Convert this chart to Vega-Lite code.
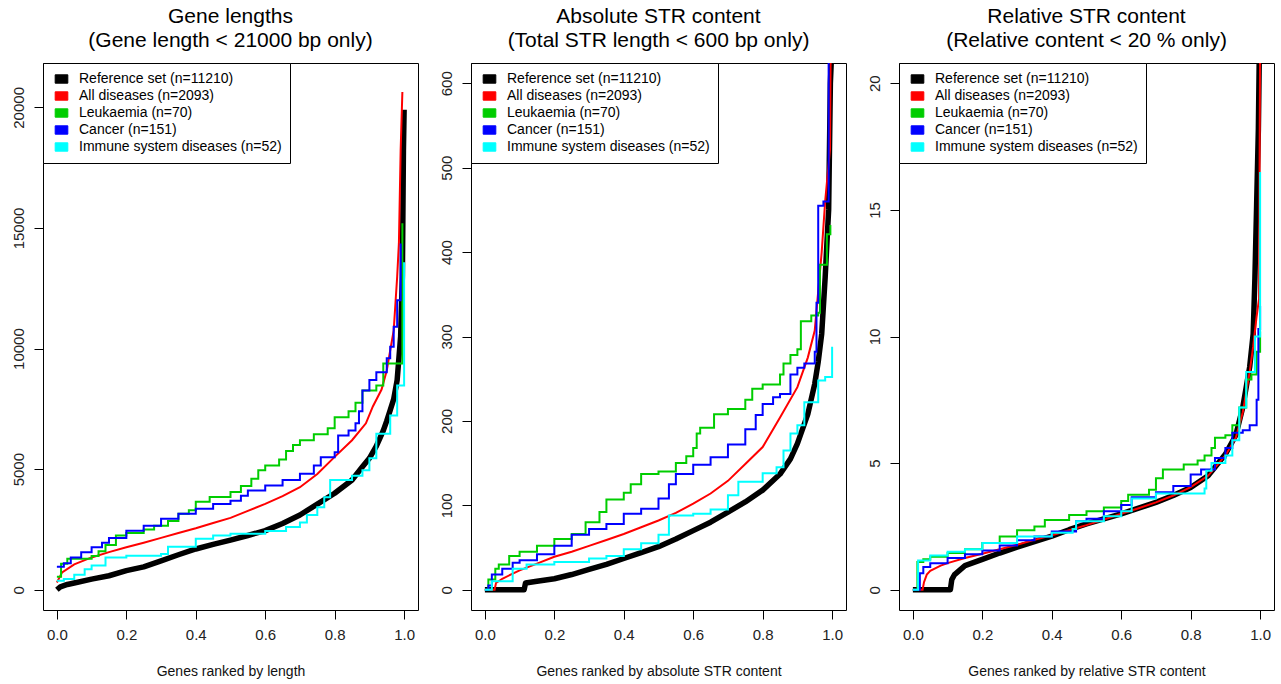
{
  "$schema": "https://vega.github.io/schema/vega-lite/v6.json",
  "background": "white",
  "padding": {"left": 10, "top": 5, "right": 5, "bottom": 5},
  "spacing": 19,
  "datasets": {
    "p1": [
      {"series":"Reference set (n=11210)","x":0,"y":0},{"series":"Reference set (n=11210)","x":0.01,"y":120},{"series":"Reference set (n=11210)","x":0.03,"y":220},{"series":"Reference set (n=11210)","x":0.05,"y":280},{"series":"Reference set (n=11210)","x":0.1,"y":440},{"series":"Reference set (n=11210)","x":0.15,"y":580},{"series":"Reference set (n=11210)","x":0.2,"y":790},{"series":"Reference set (n=11210)","x":0.25,"y":950},{"series":"Reference set (n=11210)","x":0.3,"y":1200},{"series":"Reference set (n=11210)","x":0.35,"y":1450},{"series":"Reference set (n=11210)","x":0.4,"y":1690},{"series":"Reference set (n=11210)","x":0.45,"y":1880},{"series":"Reference set (n=11210)","x":0.5,"y":2060},{"series":"Reference set (n=11210)","x":0.55,"y":2250},{"series":"Reference set (n=11210)","x":0.6,"y":2450},{"series":"Reference set (n=11210)","x":0.65,"y":2750},{"series":"Reference set (n=11210)","x":0.7,"y":3100},{"series":"Reference set (n=11210)","x":0.75,"y":3550},{"series":"Reference set (n=11210)","x":0.8,"y":4000},{"series":"Reference set (n=11210)","x":0.85,"y":4550},{"series":"Reference set (n=11210)","x":0.88,"y":5100},{"series":"Reference set (n=11210)","x":0.9,"y":5450},{"series":"Reference set (n=11210)","x":0.92,"y":5950},{"series":"Reference set (n=11210)","x":0.94,"y":6600},{"series":"Reference set (n=11210)","x":0.95,"y":7000},{"series":"Reference set (n=11210)","x":0.96,"y":7450},{"series":"Reference set (n=11210)","x":0.97,"y":7900},{"series":"Reference set (n=11210)","x":0.98,"y":8700},{"series":"Reference set (n=11210)","x":0.99,"y":10500},{"series":"Reference set (n=11210)","x":0.995,"y":13000},{"series":"Reference set (n=11210)","x":0.998,"y":18200},{"series":"Reference set (n=11210)","x":1.0,"y":19900},
      {"series":"All diseases (n=2093)","x":0,"y":300},{"series":"All diseases (n=2093)","x":0.015,"y":720},{"series":"All diseases (n=2093)","x":0.05,"y":1050},{"series":"All diseases (n=2093)","x":0.1,"y":1340},{"series":"All diseases (n=2093)","x":0.15,"y":1560},{"series":"All diseases (n=2093)","x":0.2,"y":1760},{"series":"All diseases (n=2093)","x":0.25,"y":1950},{"series":"All diseases (n=2093)","x":0.3,"y":2150},{"series":"All diseases (n=2093)","x":0.35,"y":2350},{"series":"All diseases (n=2093)","x":0.4,"y":2550},{"series":"All diseases (n=2093)","x":0.45,"y":2770},{"series":"All diseases (n=2093)","x":0.5,"y":2980},{"series":"All diseases (n=2093)","x":0.55,"y":3270},{"series":"All diseases (n=2093)","x":0.6,"y":3560},{"series":"All diseases (n=2093)","x":0.65,"y":3880},{"series":"All diseases (n=2093)","x":0.7,"y":4250},{"series":"All diseases (n=2093)","x":0.75,"y":4800},{"series":"All diseases (n=2093)","x":0.8,"y":5510},{"series":"All diseases (n=2093)","x":0.85,"y":6200},{"series":"All diseases (n=2093)","x":0.89,"y":6900},{"series":"All diseases (n=2093)","x":0.91,"y":7600},{"series":"All diseases (n=2093)","x":0.935,"y":8300},{"series":"All diseases (n=2093)","x":0.95,"y":9090},{"series":"All diseases (n=2093)","x":0.97,"y":10750},{"series":"All diseases (n=2093)","x":0.98,"y":12970},{"series":"All diseases (n=2093)","x":0.985,"y":14370},{"series":"All diseases (n=2093)","x":0.99,"y":18200},{"series":"All diseases (n=2093)","x":0.995,"y":20640},
      {"series":"Leukaemia (n=70)","x":0,"y":540},{"series":"Leukaemia (n=70)","x":0.012,"y":1080},{"series":"Leukaemia (n=70)","x":0.03,"y":1290},{"series":"Leukaemia (n=70)","x":0.1,"y":1400},{"series":"Leukaemia (n=70)","x":0.12,"y":1600},{"series":"Leukaemia (n=70)","x":0.14,"y":1850},{"series":"Leukaemia (n=70)","x":0.17,"y":2250},{"series":"Leukaemia (n=70)","x":0.2,"y":2350},{"series":"Leukaemia (n=70)","x":0.25,"y":2500},{"series":"Leukaemia (n=70)","x":0.28,"y":2650},{"series":"Leukaemia (n=70)","x":0.32,"y":2850},{"series":"Leukaemia (n=70)","x":0.35,"y":3150},{"series":"Leukaemia (n=70)","x":0.38,"y":3300},{"series":"Leukaemia (n=70)","x":0.4,"y":3650},{"series":"Leukaemia (n=70)","x":0.44,"y":3850},{"series":"Leukaemia (n=70)","x":0.5,"y":4050},{"series":"Leukaemia (n=70)","x":0.53,"y":4300},{"series":"Leukaemia (n=70)","x":0.56,"y":4600},{"series":"Leukaemia (n=70)","x":0.58,"y":4950},{"series":"Leukaemia (n=70)","x":0.6,"y":5150},{"series":"Leukaemia (n=70)","x":0.64,"y":5400},{"series":"Leukaemia (n=70)","x":0.66,"y":5750},{"series":"Leukaemia (n=70)","x":0.68,"y":6000},{"series":"Leukaemia (n=70)","x":0.7,"y":6200},{"series":"Leukaemia (n=70)","x":0.74,"y":6450},{"series":"Leukaemia (n=70)","x":0.78,"y":6700},{"series":"Leukaemia (n=70)","x":0.8,"y":7150},{"series":"Leukaemia (n=70)","x":0.84,"y":7400},{"series":"Leukaemia (n=70)","x":0.86,"y":7750},{"series":"Leukaemia (n=70)","x":0.88,"y":8260},{"series":"Leukaemia (n=70)","x":0.92,"y":8470},{"series":"Leukaemia (n=70)","x":0.94,"y":9380},{"series":"Leukaemia (n=70)","x":0.995,"y":15200},
      {"series":"Cancer (n=151)","x":0,"y":950},{"series":"Cancer (n=151)","x":0.02,"y":1100},{"series":"Cancer (n=151)","x":0.04,"y":1340},{"series":"Cancer (n=151)","x":0.07,"y":1550},{"series":"Cancer (n=151)","x":0.1,"y":1760},{"series":"Cancer (n=151)","x":0.13,"y":1950},{"series":"Cancer (n=151)","x":0.15,"y":2150},{"series":"Cancer (n=151)","x":0.2,"y":2450},{"series":"Cancer (n=151)","x":0.25,"y":2650},{"series":"Cancer (n=151)","x":0.3,"y":2940},{"series":"Cancer (n=151)","x":0.35,"y":3150},{"series":"Cancer (n=151)","x":0.4,"y":3360},{"series":"Cancer (n=151)","x":0.45,"y":3550},{"series":"Cancer (n=151)","x":0.5,"y":3690},{"series":"Cancer (n=151)","x":0.53,"y":3900},{"series":"Cancer (n=151)","x":0.55,"y":4110},{"series":"Cancer (n=151)","x":0.6,"y":4320},{"series":"Cancer (n=151)","x":0.65,"y":4550},{"series":"Cancer (n=151)","x":0.7,"y":4810},{"series":"Cancer (n=151)","x":0.74,"y":5150},{"series":"Cancer (n=151)","x":0.76,"y":5490},{"series":"Cancer (n=151)","x":0.8,"y":5700},{"series":"Cancer (n=151)","x":0.81,"y":6400},{"series":"Cancer (n=151)","x":0.84,"y":6600},{"series":"Cancer (n=151)","x":0.86,"y":6900},{"series":"Cancer (n=151)","x":0.87,"y":7400},{"series":"Cancer (n=151)","x":0.88,"y":8260},{"series":"Cancer (n=151)","x":0.9,"y":8700},{"series":"Cancer (n=151)","x":0.92,"y":9020},{"series":"Cancer (n=151)","x":0.95,"y":9600},{"series":"Cancer (n=151)","x":0.96,"y":10080},{"series":"Cancer (n=151)","x":0.97,"y":10900},{"series":"Cancer (n=151)","x":0.98,"y":12000},{"series":"Cancer (n=151)","x":0.99,"y":14360},
      {"series":"Immune system diseases (n=52)","x":0,"y":370},{"series":"Immune system diseases (n=52)","x":0.02,"y":450},{"series":"Immune system diseases (n=52)","x":0.05,"y":620},{"series":"Immune system diseases (n=52)","x":0.08,"y":850},{"series":"Immune system diseases (n=52)","x":0.1,"y":1000},{"series":"Immune system diseases (n=52)","x":0.14,"y":1340},{"series":"Immune system diseases (n=52)","x":0.2,"y":1410},{"series":"Immune system diseases (n=52)","x":0.3,"y":1480},{"series":"Immune system diseases (n=52)","x":0.32,"y":1780},{"series":"Immune system diseases (n=52)","x":0.4,"y":2110},{"series":"Immune system diseases (n=52)","x":0.45,"y":2250},{"series":"Immune system diseases (n=52)","x":0.5,"y":2320},{"series":"Immune system diseases (n=52)","x":0.6,"y":2440},{"series":"Immune system diseases (n=52)","x":0.66,"y":2600},{"series":"Immune system diseases (n=52)","x":0.7,"y":2790},{"series":"Immune system diseases (n=52)","x":0.72,"y":3100},{"series":"Immune system diseases (n=52)","x":0.75,"y":3420},{"series":"Immune system diseases (n=52)","x":0.77,"y":3830},{"series":"Immune system diseases (n=52)","x":0.787,"y":4550},{"series":"Immune system diseases (n=52)","x":0.85,"y":4730},{"series":"Immune system diseases (n=52)","x":0.88,"y":4950},{"series":"Immune system diseases (n=52)","x":0.9,"y":5450},{"series":"Immune system diseases (n=52)","x":0.92,"y":6470},{"series":"Immune system diseases (n=52)","x":0.96,"y":7220},{"series":"Immune system diseases (n=52)","x":0.98,"y":8470},{"series":"Immune system diseases (n=52)","x":1.0,"y":13580}
    ],
    "p2": [
      {"series":"Reference set (n=11210)","x":0,"y":0},{"series":"Reference set (n=11210)","x":0.113,"y":0},{"series":"Reference set (n=11210)","x":0.117,"y":8},{"series":"Reference set (n=11210)","x":0.15,"y":10},{"series":"Reference set (n=11210)","x":0.2,"y":13},{"series":"Reference set (n=11210)","x":0.25,"y":18},{"series":"Reference set (n=11210)","x":0.3,"y":24},{"series":"Reference set (n=11210)","x":0.35,"y":30},{"series":"Reference set (n=11210)","x":0.4,"y":37},{"series":"Reference set (n=11210)","x":0.45,"y":44},{"series":"Reference set (n=11210)","x":0.5,"y":51},{"series":"Reference set (n=11210)","x":0.55,"y":60},{"series":"Reference set (n=11210)","x":0.6,"y":70},{"series":"Reference set (n=11210)","x":0.65,"y":80},{"series":"Reference set (n=11210)","x":0.7,"y":92},{"series":"Reference set (n=11210)","x":0.75,"y":104},{"series":"Reference set (n=11210)","x":0.8,"y":118},{"series":"Reference set (n=11210)","x":0.85,"y":137},{"series":"Reference set (n=11210)","x":0.88,"y":155},{"series":"Reference set (n=11210)","x":0.9,"y":173},{"series":"Reference set (n=11210)","x":0.93,"y":208},{"series":"Reference set (n=11210)","x":0.95,"y":244},{"series":"Reference set (n=11210)","x":0.96,"y":270},{"series":"Reference set (n=11210)","x":0.97,"y":303},{"series":"Reference set (n=11210)","x":0.98,"y":370},{"series":"Reference set (n=11210)","x":0.99,"y":450},{"series":"Reference set (n=11210)","x":0.995,"y":600},{"series":"Reference set (n=11210)","x":1.0,"y":650},
      {"series":"All diseases (n=2093)","x":0,"y":0},{"series":"All diseases (n=2093)","x":0.028,"y":0},{"series":"All diseases (n=2093)","x":0.032,"y":8},{"series":"All diseases (n=2093)","x":0.05,"y":13},{"series":"All diseases (n=2093)","x":0.1,"y":23},{"series":"All diseases (n=2093)","x":0.15,"y":31},{"series":"All diseases (n=2093)","x":0.2,"y":39},{"series":"All diseases (n=2093)","x":0.25,"y":45},{"series":"All diseases (n=2093)","x":0.3,"y":52},{"series":"All diseases (n=2093)","x":0.35,"y":59},{"series":"All diseases (n=2093)","x":0.4,"y":66},{"series":"All diseases (n=2093)","x":0.45,"y":74},{"series":"All diseases (n=2093)","x":0.5,"y":82},{"series":"All diseases (n=2093)","x":0.55,"y":91},{"series":"All diseases (n=2093)","x":0.6,"y":102},{"series":"All diseases (n=2093)","x":0.65,"y":114},{"series":"All diseases (n=2093)","x":0.7,"y":129},{"series":"All diseases (n=2093)","x":0.75,"y":149},{"series":"All diseases (n=2093)","x":0.8,"y":169},{"series":"All diseases (n=2093)","x":0.85,"y":204},{"series":"All diseases (n=2093)","x":0.9,"y":240},{"series":"All diseases (n=2093)","x":0.93,"y":275},{"series":"All diseases (n=2093)","x":0.95,"y":307},{"series":"All diseases (n=2093)","x":0.97,"y":400},{"series":"All diseases (n=2093)","x":0.98,"y":460},{"series":"All diseases (n=2093)","x":0.994,"y":522},{"series":"All diseases (n=2093)","x":0.996,"y":650},
      {"series":"Leukaemia (n=70)","x":0,"y":0},{"series":"Leukaemia (n=70)","x":0.01,"y":12},{"series":"Leukaemia (n=70)","x":0.03,"y":25},{"series":"Leukaemia (n=70)","x":0.04,"y":30},{"series":"Leukaemia (n=70)","x":0.07,"y":40},{"series":"Leukaemia (n=70)","x":0.1,"y":45},{"series":"Leukaemia (n=70)","x":0.15,"y":52},{"series":"Leukaemia (n=70)","x":0.2,"y":60},{"series":"Leukaemia (n=70)","x":0.25,"y":66},{"series":"Leukaemia (n=70)","x":0.29,"y":80},{"series":"Leukaemia (n=70)","x":0.33,"y":92},{"series":"Leukaemia (n=70)","x":0.35,"y":107},{"series":"Leukaemia (n=70)","x":0.4,"y":115},{"series":"Leukaemia (n=70)","x":0.42,"y":125},{"series":"Leukaemia (n=70)","x":0.45,"y":137},{"series":"Leukaemia (n=70)","x":0.5,"y":140},{"series":"Leukaemia (n=70)","x":0.55,"y":150},{"series":"Leukaemia (n=70)","x":0.58,"y":158},{"series":"Leukaemia (n=70)","x":0.6,"y":168},{"series":"Leukaemia (n=70)","x":0.61,"y":185},{"series":"Leukaemia (n=70)","x":0.62,"y":192},{"series":"Leukaemia (n=70)","x":0.66,"y":208},{"series":"Leukaemia (n=70)","x":0.7,"y":214},{"series":"Leukaemia (n=70)","x":0.75,"y":225},{"series":"Leukaemia (n=70)","x":0.77,"y":238},{"series":"Leukaemia (n=70)","x":0.8,"y":243},{"series":"Leukaemia (n=70)","x":0.85,"y":255},{"series":"Leukaemia (n=70)","x":0.86,"y":268},{"series":"Leukaemia (n=70)","x":0.88,"y":278},{"series":"Leukaemia (n=70)","x":0.9,"y":285},{"series":"Leukaemia (n=70)","x":0.91,"y":318},{"series":"Leukaemia (n=70)","x":0.94,"y":325},{"series":"Leukaemia (n=70)","x":0.96,"y":328},{"series":"Leukaemia (n=70)","x":0.965,"y":385},{"series":"Leukaemia (n=70)","x":0.985,"y":421},{"series":"Leukaemia (n=70)","x":0.995,"y":432},
      {"series":"Cancer (n=151)","x":0,"y":0},{"series":"Cancer (n=151)","x":0.01,"y":5},{"series":"Cancer (n=151)","x":0.02,"y":18},{"series":"Cancer (n=151)","x":0.05,"y":25},{"series":"Cancer (n=151)","x":0.08,"y":32},{"series":"Cancer (n=151)","x":0.1,"y":35},{"series":"Cancer (n=151)","x":0.15,"y":42},{"series":"Cancer (n=151)","x":0.2,"y":52},{"series":"Cancer (n=151)","x":0.25,"y":65},{"series":"Cancer (n=151)","x":0.3,"y":72},{"series":"Cancer (n=151)","x":0.35,"y":78},{"series":"Cancer (n=151)","x":0.4,"y":90},{"series":"Cancer (n=151)","x":0.45,"y":96},{"series":"Cancer (n=151)","x":0.5,"y":108},{"series":"Cancer (n=151)","x":0.53,"y":125},{"series":"Cancer (n=151)","x":0.55,"y":137},{"series":"Cancer (n=151)","x":0.6,"y":148},{"series":"Cancer (n=151)","x":0.65,"y":157},{"series":"Cancer (n=151)","x":0.7,"y":172},{"series":"Cancer (n=151)","x":0.75,"y":190},{"series":"Cancer (n=151)","x":0.78,"y":207},{"series":"Cancer (n=151)","x":0.8,"y":220},{"series":"Cancer (n=151)","x":0.83,"y":228},{"series":"Cancer (n=151)","x":0.85,"y":232},{"series":"Cancer (n=151)","x":0.88,"y":255},{"series":"Cancer (n=151)","x":0.9,"y":263},{"series":"Cancer (n=151)","x":0.92,"y":268},{"series":"Cancer (n=151)","x":0.95,"y":282},{"series":"Cancer (n=151)","x":0.955,"y":340},{"series":"Cancer (n=151)","x":0.96,"y":455},{"series":"Cancer (n=151)","x":0.975,"y":460},{"series":"Cancer (n=151)","x":0.99,"y":650},
      {"series":"Immune system diseases (n=52)","x":0,"y":0},{"series":"Immune system diseases (n=52)","x":0.02,"y":10},{"series":"Immune system diseases (n=52)","x":0.08,"y":25},{"series":"Immune system diseases (n=52)","x":0.12,"y":30},{"series":"Immune system diseases (n=52)","x":0.2,"y":33},{"series":"Immune system diseases (n=52)","x":0.3,"y":37},{"series":"Immune system diseases (n=52)","x":0.35,"y":40},{"series":"Immune system diseases (n=52)","x":0.4,"y":48},{"series":"Immune system diseases (n=52)","x":0.45,"y":55},{"series":"Immune system diseases (n=52)","x":0.5,"y":65},{"series":"Immune system diseases (n=52)","x":0.53,"y":88},{"series":"Immune system diseases (n=52)","x":0.6,"y":90},{"series":"Immune system diseases (n=52)","x":0.65,"y":95},{"series":"Immune system diseases (n=52)","x":0.7,"y":112},{"series":"Immune system diseases (n=52)","x":0.73,"y":128},{"series":"Immune system diseases (n=52)","x":0.8,"y":138},{"series":"Immune system diseases (n=52)","x":0.84,"y":145},{"series":"Immune system diseases (n=52)","x":0.86,"y":165},{"series":"Immune system diseases (n=52)","x":0.88,"y":185},{"series":"Immune system diseases (n=52)","x":0.9,"y":195},{"series":"Immune system diseases (n=52)","x":0.92,"y":222},{"series":"Immune system diseases (n=52)","x":0.96,"y":248},{"series":"Immune system diseases (n=52)","x":0.98,"y":252},{"series":"Immune system diseases (n=52)","x":1.0,"y":288}
    ],
    "p3": [
      {"series":"Reference set (n=11210)","x":0,"y":0},{"series":"Reference set (n=11210)","x":0.108,"y":0},{"series":"Reference set (n=11210)","x":0.112,"y":0.4},{"series":"Reference set (n=11210)","x":0.12,"y":0.6},{"series":"Reference set (n=11210)","x":0.15,"y":0.95},{"series":"Reference set (n=11210)","x":0.2,"y":1.2},{"series":"Reference set (n=11210)","x":0.25,"y":1.45},{"series":"Reference set (n=11210)","x":0.3,"y":1.68},{"series":"Reference set (n=11210)","x":0.35,"y":1.9},{"series":"Reference set (n=11210)","x":0.4,"y":2.12},{"series":"Reference set (n=11210)","x":0.45,"y":2.37},{"series":"Reference set (n=11210)","x":0.5,"y":2.6},{"series":"Reference set (n=11210)","x":0.55,"y":2.8},{"series":"Reference set (n=11210)","x":0.6,"y":3.0},{"series":"Reference set (n=11210)","x":0.65,"y":3.22},{"series":"Reference set (n=11210)","x":0.7,"y":3.45},{"series":"Reference set (n=11210)","x":0.75,"y":3.72},{"series":"Reference set (n=11210)","x":0.8,"y":4.04},{"series":"Reference set (n=11210)","x":0.85,"y":4.5},{"series":"Reference set (n=11210)","x":0.9,"y":5.35},{"series":"Reference set (n=11210)","x":0.93,"y":6.1},{"series":"Reference set (n=11210)","x":0.95,"y":7.2},{"series":"Reference set (n=11210)","x":0.97,"y":8.8},{"series":"Reference set (n=11210)","x":0.98,"y":10.1},{"series":"Reference set (n=11210)","x":0.985,"y":12.3},{"series":"Reference set (n=11210)","x":0.99,"y":15.2},{"series":"Reference set (n=11210)","x":0.995,"y":18.2},{"series":"Reference set (n=11210)","x":0.998,"y":21.5},
      {"series":"All diseases (n=2093)","x":0,"y":0},{"series":"All diseases (n=2093)","x":0.028,"y":0},{"series":"All diseases (n=2093)","x":0.032,"y":0.3},{"series":"All diseases (n=2093)","x":0.04,"y":0.6},{"series":"All diseases (n=2093)","x":0.05,"y":0.75},{"series":"All diseases (n=2093)","x":0.08,"y":0.95},{"series":"All diseases (n=2093)","x":0.1,"y":1.05},{"series":"All diseases (n=2093)","x":0.15,"y":1.25},{"series":"All diseases (n=2093)","x":0.2,"y":1.42},{"series":"All diseases (n=2093)","x":0.25,"y":1.6},{"series":"All diseases (n=2093)","x":0.3,"y":1.78},{"series":"All diseases (n=2093)","x":0.35,"y":1.97},{"series":"All diseases (n=2093)","x":0.4,"y":2.15},{"series":"All diseases (n=2093)","x":0.45,"y":2.35},{"series":"All diseases (n=2093)","x":0.5,"y":2.55},{"series":"All diseases (n=2093)","x":0.55,"y":2.77},{"series":"All diseases (n=2093)","x":0.6,"y":3.0},{"series":"All diseases (n=2093)","x":0.65,"y":3.22},{"series":"All diseases (n=2093)","x":0.7,"y":3.45},{"series":"All diseases (n=2093)","x":0.75,"y":3.72},{"series":"All diseases (n=2093)","x":0.8,"y":4.05},{"series":"All diseases (n=2093)","x":0.85,"y":4.5},{"series":"All diseases (n=2093)","x":0.9,"y":5.3},{"series":"All diseases (n=2093)","x":0.93,"y":6.0},{"series":"All diseases (n=2093)","x":0.95,"y":7.0},{"series":"All diseases (n=2093)","x":0.97,"y":8.6},{"series":"All diseases (n=2093)","x":0.98,"y":9.6},{"series":"All diseases (n=2093)","x":0.99,"y":10.8},{"series":"All diseases (n=2093)","x":0.997,"y":11.5},{"series":"All diseases (n=2093)","x":0.999,"y":18.3},{"series":"All diseases (n=2093)","x":1.0,"y":21.5},
      {"series":"Leukaemia (n=70)","x":0,"y":0},{"series":"Leukaemia (n=70)","x":0.013,"y":1.1},{"series":"Leukaemia (n=70)","x":0.03,"y":1.2},{"series":"Leukaemia (n=70)","x":0.05,"y":1.3},{"series":"Leukaemia (n=70)","x":0.1,"y":1.45},{"series":"Leukaemia (n=70)","x":0.15,"y":1.6},{"series":"Leukaemia (n=70)","x":0.2,"y":1.85},{"series":"Leukaemia (n=70)","x":0.25,"y":2.1},{"series":"Leukaemia (n=70)","x":0.3,"y":2.35},{"series":"Leukaemia (n=70)","x":0.35,"y":2.5},{"series":"Leukaemia (n=70)","x":0.38,"y":2.75},{"series":"Leukaemia (n=70)","x":0.45,"y":2.95},{"series":"Leukaemia (n=70)","x":0.5,"y":3.1},{"series":"Leukaemia (n=70)","x":0.55,"y":3.25},{"series":"Leukaemia (n=70)","x":0.6,"y":3.5},{"series":"Leukaemia (n=70)","x":0.62,"y":3.75},{"series":"Leukaemia (n=70)","x":0.68,"y":3.95},{"series":"Leukaemia (n=70)","x":0.7,"y":4.4},{"series":"Leukaemia (n=70)","x":0.72,"y":4.75},{"series":"Leukaemia (n=70)","x":0.78,"y":4.95},{"series":"Leukaemia (n=70)","x":0.82,"y":5.1},{"series":"Leukaemia (n=70)","x":0.84,"y":5.3},{"series":"Leukaemia (n=70)","x":0.86,"y":5.6},{"series":"Leukaemia (n=70)","x":0.87,"y":6.0},{"series":"Leukaemia (n=70)","x":0.9,"y":6.1},{"series":"Leukaemia (n=70)","x":0.92,"y":6.5},{"series":"Leukaemia (n=70)","x":0.94,"y":7.2},{"series":"Leukaemia (n=70)","x":0.96,"y":8.3},{"series":"Leukaemia (n=70)","x":0.975,"y":8.5},{"series":"Leukaemia (n=70)","x":0.99,"y":9.4},{"series":"Leukaemia (n=70)","x":1.0,"y":10.2},
      {"series":"Cancer (n=151)","x":0,"y":0},{"series":"Cancer (n=151)","x":0.02,"y":0.65},{"series":"Cancer (n=151)","x":0.03,"y":0.9},{"series":"Cancer (n=151)","x":0.05,"y":1.05},{"series":"Cancer (n=151)","x":0.1,"y":1.25},{"series":"Cancer (n=151)","x":0.15,"y":1.4},{"series":"Cancer (n=151)","x":0.2,"y":1.55},{"series":"Cancer (n=151)","x":0.25,"y":1.75},{"series":"Cancer (n=151)","x":0.3,"y":1.95},{"series":"Cancer (n=151)","x":0.35,"y":2.1},{"series":"Cancer (n=151)","x":0.4,"y":2.3},{"series":"Cancer (n=151)","x":0.47,"y":2.7},{"series":"Cancer (n=151)","x":0.5,"y":2.8},{"series":"Cancer (n=151)","x":0.55,"y":3.1},{"series":"Cancer (n=151)","x":0.6,"y":3.35},{"series":"Cancer (n=151)","x":0.63,"y":3.65},{"series":"Cancer (n=151)","x":0.7,"y":3.85},{"series":"Cancer (n=151)","x":0.75,"y":4.1},{"series":"Cancer (n=151)","x":0.8,"y":4.55},{"series":"Cancer (n=151)","x":0.83,"y":4.75},{"series":"Cancer (n=151)","x":0.87,"y":5.2},{"series":"Cancer (n=151)","x":0.9,"y":5.6},{"series":"Cancer (n=151)","x":0.92,"y":6.2},{"series":"Cancer (n=151)","x":0.95,"y":6.3},{"series":"Cancer (n=151)","x":0.97,"y":6.5},{"series":"Cancer (n=151)","x":0.99,"y":7.5},{"series":"Cancer (n=151)","x":0.995,"y":10.3},{"series":"Cancer (n=151)","x":1.0,"y":11.2},
      {"series":"Immune system diseases (n=52)","x":0,"y":0},{"series":"Immune system diseases (n=52)","x":0.015,"y":1.15},{"series":"Immune system diseases (n=52)","x":0.05,"y":1.35},{"series":"Immune system diseases (n=52)","x":0.1,"y":1.5},{"series":"Immune system diseases (n=52)","x":0.15,"y":1.6},{"series":"Immune system diseases (n=52)","x":0.2,"y":1.85},{"series":"Immune system diseases (n=52)","x":0.3,"y":2.1},{"series":"Immune system diseases (n=52)","x":0.4,"y":2.25},{"series":"Immune system diseases (n=52)","x":0.46,"y":2.4},{"series":"Immune system diseases (n=52)","x":0.47,"y":2.7},{"series":"Immune system diseases (n=52)","x":0.55,"y":2.9},{"series":"Immune system diseases (n=52)","x":0.6,"y":3.1},{"series":"Immune system diseases (n=52)","x":0.63,"y":3.6},{"series":"Immune system diseases (n=52)","x":0.7,"y":3.8},{"series":"Immune system diseases (n=52)","x":0.84,"y":4.0},{"series":"Immune system diseases (n=52)","x":0.845,"y":4.7},{"series":"Immune system diseases (n=52)","x":0.86,"y":5.0},{"series":"Immune system diseases (n=52)","x":0.9,"y":5.3},{"series":"Immune system diseases (n=52)","x":0.92,"y":5.9},{"series":"Immune system diseases (n=52)","x":0.94,"y":7.2},{"series":"Immune system diseases (n=52)","x":0.96,"y":8.6},{"series":"Immune system diseases (n=52)","x":0.985,"y":10.0},{"series":"Immune system diseases (n=52)","x":1.0,"y":16.5}
    ]
  },
  "hconcat": [
    {
      "width": 375, "height": 547,
      "title": {"text": ["Gene lengths", "(Gene length < 21000 bp only)"]},
      "data": {"name": "p1"},
      "encoding": {
        "x": {"field": "x", "type": "quantitative", "scale": {"domain": [-0.04, 1.04], "nice": false, "zero": false}, "axis": {"values": [0, 0.2, 0.4, 0.6, 0.8, 1], "format": ".1f", "title": "Genes ranked by length"}},
        "y": {"field": "y", "type": "quantitative", "scale": {"domain": [-840, 21840], "nice": false, "zero": false}, "axis": {"values": [0, 5000, 10000, 15000, 20000], "format": "d", "title": null}},
        "color": {"field": "series", "type": "nominal", "scale": {"domain": ["Reference set (n=11210)", "All diseases (n=2093)", "Leukaemia (n=70)", "Cancer (n=151)", "Immune system diseases (n=52)"], "range": ["#000000", "#FF0000", "#00CD00", "#0000FF", "#00FFFF"]},
          "legend": {"title": null, "orient": "top-left", "offset": 0, "padding": 7.5, "strokeColor": "black", "fillColor": "white", "symbolType": "M-1,-0.66L1,-0.66L1,0.66L-1,0.66Z", "symbolSize": 160, "symbolOffset": 4, "labelOffset": 10.5, "labelFontSize": 14, "labelFont": "Liberation Sans", "labelColor": "black", "rowPadding": 0, "clipHeight": 17, "labelLimit": 0,
            "encode": {"symbols": {"update": {"fill": {"signal": "['#000000','#FF0000','#00CD00','#0000FF','#00FFFF'][indexof(['Reference set (n=11210)','All diseases (n=2093)','Leukaemia (n=70)','Cancer (n=151)','Immune system diseases (n=52)'], datum.value)]"}, "stroke": {"value": "black"}, "strokeWidth": {"value": 1}, "opacity": {"value": 1}}}}}}
      },
      "layer": [
        {"transform": [{"filter": "datum.series === 'Reference set (n=11210)'"}], "mark": {"type": "line", "strokeWidth": 5.5, "clip": true, "strokeJoin": "round"}},
        {"transform": [{"filter": "datum.series === 'All diseases (n=2093)'"}], "mark": {"type": "line", "strokeWidth": 2, "clip": true}},
        {"transform": [{"filter": "datum.series === 'Leukaemia (n=70)'"}], "mark": {"type": "line", "strokeWidth": 2, "clip": true, "interpolate": "step-after"}},
        {"transform": [{"filter": "datum.series === 'Cancer (n=151)'"}], "mark": {"type": "line", "strokeWidth": 2, "clip": true, "interpolate": "step-after"}},
        {"transform": [{"filter": "datum.series === 'Immune system diseases (n=52)'"}], "mark": {"type": "line", "strokeWidth": 2, "clip": true, "interpolate": "step-after"}}
      ]
    },
    {
      "width": 375, "height": 547,
      "title": {"text": ["Absolute STR content", "(Total STR length < 600 bp only)"]},
      "data": {"name": "p2"},
      "encoding": {
        "x": {"field": "x", "type": "quantitative", "scale": {"domain": [-0.04, 1.04], "nice": false, "zero": false}, "axis": {"values": [0, 0.2, 0.4, 0.6, 0.8, 1], "format": ".1f", "title": "Genes ranked by absolute STR content"}},
        "y": {"field": "y", "type": "quantitative", "scale": {"domain": [-24, 624], "nice": false, "zero": false}, "axis": {"values": [0, 100, 200, 300, 400, 500, 600], "format": "d", "title": null}},
        "color": {"field": "series", "type": "nominal", "scale": {"domain": ["Reference set (n=11210)", "All diseases (n=2093)", "Leukaemia (n=70)", "Cancer (n=151)", "Immune system diseases (n=52)"], "range": ["#000000", "#FF0000", "#00CD00", "#0000FF", "#00FFFF"]},
          "legend": {"title": null, "orient": "top-left", "offset": 0, "padding": 7.5, "strokeColor": "black", "fillColor": "white", "symbolType": "M-1,-0.66L1,-0.66L1,0.66L-1,0.66Z", "symbolSize": 160, "symbolOffset": 4, "labelOffset": 10.5, "labelFontSize": 14, "labelFont": "Liberation Sans", "labelColor": "black", "rowPadding": 0, "clipHeight": 17, "labelLimit": 0,
            "encode": {"symbols": {"update": {"fill": {"signal": "['#000000','#FF0000','#00CD00','#0000FF','#00FFFF'][indexof(['Reference set (n=11210)','All diseases (n=2093)','Leukaemia (n=70)','Cancer (n=151)','Immune system diseases (n=52)'], datum.value)]"}, "stroke": {"value": "black"}, "strokeWidth": {"value": 1}, "opacity": {"value": 1}}}}}}
      },
      "layer": [
        {"transform": [{"filter": "datum.series === 'Reference set (n=11210)'"}], "mark": {"type": "line", "strokeWidth": 5.5, "clip": true, "strokeJoin": "round"}},
        {"transform": [{"filter": "datum.series === 'All diseases (n=2093)'"}], "mark": {"type": "line", "strokeWidth": 2, "clip": true}},
        {"transform": [{"filter": "datum.series === 'Leukaemia (n=70)'"}], "mark": {"type": "line", "strokeWidth": 2, "clip": true, "interpolate": "step-after"}},
        {"transform": [{"filter": "datum.series === 'Cancer (n=151)'"}], "mark": {"type": "line", "strokeWidth": 2, "clip": true, "interpolate": "step-after"}},
        {"transform": [{"filter": "datum.series === 'Immune system diseases (n=52)'"}], "mark": {"type": "line", "strokeWidth": 2, "clip": true, "interpolate": "step-after"}}
      ]
    },
    {
      "width": 375, "height": 547,
      "title": {"text": ["Relative STR content", "(Relative content < 20 % only)"]},
      "data": {"name": "p3"},
      "encoding": {
        "x": {"field": "x", "type": "quantitative", "scale": {"domain": [-0.04, 1.04], "nice": false, "zero": false}, "axis": {"values": [0, 0.2, 0.4, 0.6, 0.8, 1], "format": ".1f", "title": "Genes ranked by relative STR content"}},
        "y": {"field": "y", "type": "quantitative", "scale": {"domain": [-0.8, 20.8], "nice": false, "zero": false}, "axis": {"values": [0, 5, 10, 15, 20], "format": "d", "title": null}},
        "color": {"field": "series", "type": "nominal", "scale": {"domain": ["Reference set (n=11210)", "All diseases (n=2093)", "Leukaemia (n=70)", "Cancer (n=151)", "Immune system diseases (n=52)"], "range": ["#000000", "#FF0000", "#00CD00", "#0000FF", "#00FFFF"]},
          "legend": {"title": null, "orient": "top-left", "offset": 0, "padding": 7.5, "strokeColor": "black", "fillColor": "white", "symbolType": "M-1,-0.66L1,-0.66L1,0.66L-1,0.66Z", "symbolSize": 160, "symbolOffset": 4, "labelOffset": 10.5, "labelFontSize": 14, "labelFont": "Liberation Sans", "labelColor": "black", "rowPadding": 0, "clipHeight": 17, "labelLimit": 0,
            "encode": {"symbols": {"update": {"fill": {"signal": "['#000000','#FF0000','#00CD00','#0000FF','#00FFFF'][indexof(['Reference set (n=11210)','All diseases (n=2093)','Leukaemia (n=70)','Cancer (n=151)','Immune system diseases (n=52)'], datum.value)]"}, "stroke": {"value": "black"}, "strokeWidth": {"value": 1}, "opacity": {"value": 1}}}}}}
      },
      "layer": [
        {"transform": [{"filter": "datum.series === 'Reference set (n=11210)'"}], "mark": {"type": "line", "strokeWidth": 5.5, "clip": true, "strokeJoin": "round"}},
        {"transform": [{"filter": "datum.series === 'All diseases (n=2093)'"}], "mark": {"type": "line", "strokeWidth": 2, "clip": true}},
        {"transform": [{"filter": "datum.series === 'Leukaemia (n=70)'"}], "mark": {"type": "line", "strokeWidth": 2, "clip": true, "interpolate": "step-after"}},
        {"transform": [{"filter": "datum.series === 'Cancer (n=151)'"}], "mark": {"type": "line", "strokeWidth": 2, "clip": true, "interpolate": "step-after"}},
        {"transform": [{"filter": "datum.series === 'Immune system diseases (n=52)'"}], "mark": {"type": "line", "strokeWidth": 2, "clip": true, "interpolate": "step-after"}}
      ]
    }
  ],
  "resolve": {"scale": {"color": "independent", "x": "independent", "y": "independent"}, "legend": {"color": "independent"}},
  "config": {
    "view": {"stroke": "black", "strokeWidth": 1},
    "axis": {"grid": false, "domain": false, "tickColor": "black", "tickSize": 9, "labelFont": "Liberation Sans", "labelFontSize": 15, "labelColor": "#222", "titleFont": "Liberation Sans", "titleFontSize": 14, "titleFontWeight": "normal", "titleColor": "#111"},
    "axisX": {"labelPadding": 8, "titlePadding": 22, "labelFlush": false},
    "axisY": {"labelAngle": -90, "labelAlign": "center", "labelBaseline": "bottom", "labelPadding": 8},
    "title": {"font": "Liberation Sans", "fontSize": 21, "fontWeight": "normal", "lineHeight": 24, "anchor": "middle", "offset": 12, "color": "black"}
  }
}
